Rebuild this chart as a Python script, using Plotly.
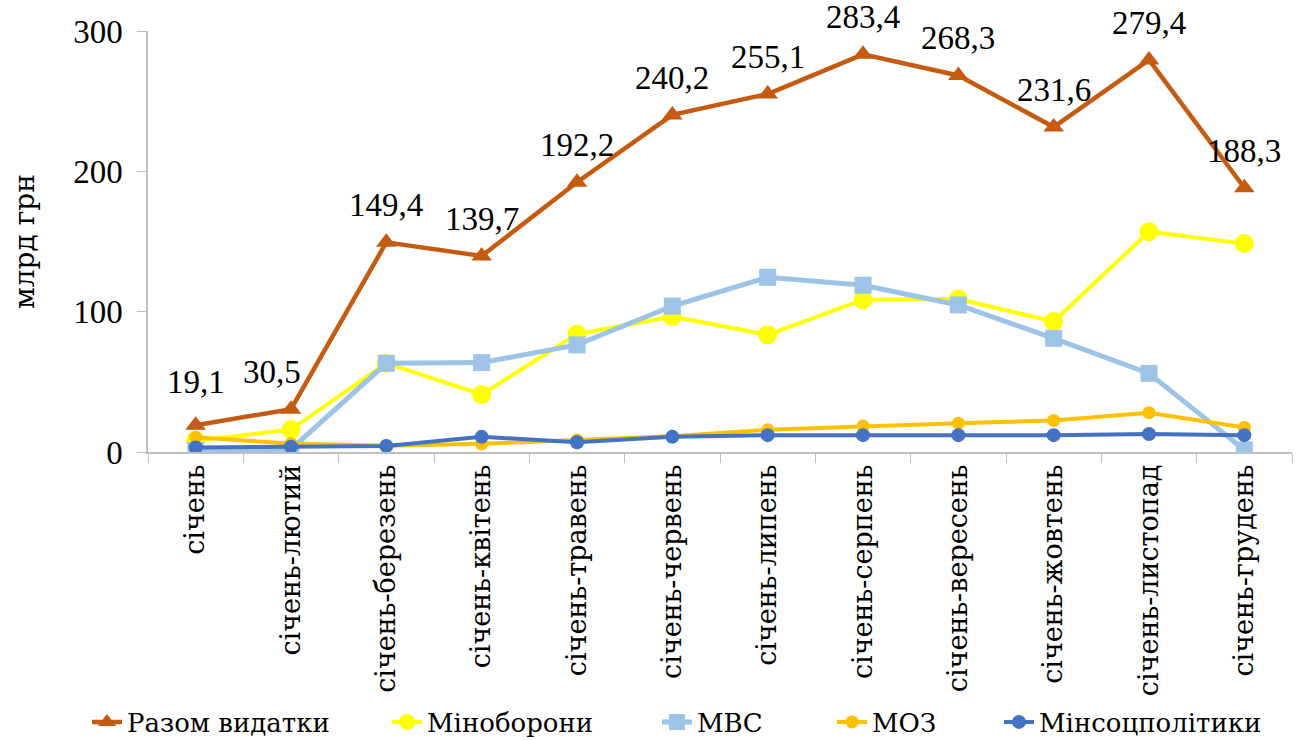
import plotly.graph_objects as go

categories = ["січень", "січень-лютий", "січень-березень", "січень-квітень", "січень-травень",
              "січень-червень", "січень-липень", "січень-серпень", "січень-вересень",
              "січень-жовтень", "січень-листопад", "січень-грудень"]

razom = [19.1, 30.5, 149.4, 139.7, 192.2, 240.2, 255.1, 283.4, 268.3, 231.6, 279.4, 188.3]
minoborony = [8.0, 16.0, 63.3, 41.0, 84.0, 96.5, 83.5, 108.5, 109.0, 93.0, 157.0, 148.5]
mvs = [1.0, 2.0, 63.2, 63.7, 76.3, 104.0, 124.5, 118.8, 104.8, 81.0, 56.0, 1.5]
moz = [10.5, 6.0, 4.5, 5.8, 8.5, 11.2, 15.8, 18.5, 20.5, 22.5, 28.0, 17.5]
minsoc = [3.2, 3.8, 4.3, 10.8, 7.0, 10.8, 12.0, 12.0, 12.0, 12.0, 12.8, 12.0]

series = [
    ("Разом видатки", razom, "#C55A11", "triangle-up", 18, 4.5),
    ("Міноборони", minoborony, "#FFFF00", "circle", 19, 4),
    ("МВС", mvs, "#9DC3E6", "square", 17, 5),
    ("МОЗ", moz, "#FFC000", "circle", 13, 4),
    ("Мінсоцполітики", minsoc, "#4472C4", "circle", 14, 4),
]

legend_text_left = [127, 427, 697, 872, 1039]

NUMFONT = "Times New Roman"
CYRFONT = "DejaVu Serif"

fig = go.Figure()
legend_names = ["legend", "legend2", "legend3", "legend4", "legend5"]
for k, (name, vals, color, sym, msize, lw) in enumerate(series):
    fig.add_trace(go.Scatter(
        x=categories, y=vals, name=name, mode="lines+markers",
        line=dict(color=color, width=lw),
        marker=dict(symbol=sym, size=msize, color=color),
        legend=legend_names[k],
    ))

# data labels for total
label_shift = {1: (-19, 0), 0: (0, 6)}
for i, v in enumerate(razom):
    xs, ys = label_shift.get(i, (0, 0))
    fig.add_annotation(x=categories[i], y=v, text=f"{v:.1f}".replace(".", ","),
                       showarrow=False, yshift=37 + ys, xshift=xs,
                       font=dict(family=NUMFONT, size=33, color="black"))

legends = {}
for k, ln in enumerate(legend_names):
    legends[ln] = dict(orientation="h", x=(legend_text_left[k] - 40) / 1309, xanchor="left",
                       xref="container", y=18 / 740, yanchor="middle", yref="container",
                       font=dict(family=CYRFONT, size=26), bgcolor="rgba(0,0,0,0)")

fig.update_layout(
    width=1309, height=740,
    margin=dict(l=148, r=17, t=31, b=288),
    paper_bgcolor="white", plot_bgcolor="white",
    font=dict(family=NUMFONT, size=33, color="black"),
    showlegend=True,
    xaxis=dict(type="category", range=[-0.5, 11.5], tickangle=-90, automargin=False,
               showline=True, linecolor="#BFBFBF", linewidth=1.5,
               ticks="outside", tickson="boundaries", ticklen=9, tickcolor="#BFBFBF",
               showgrid=False, zeroline=False,
               tickfont=dict(family=CYRFONT, size=27)),
    yaxis=dict(range=[0, 300], tickvals=[0, 100, 200, 300], automargin=False,
               showline=True, linecolor="#BFBFBF", linewidth=1.5,
               ticks="outside", ticklen=9, tickcolor="#BFBFBF", ticklabelstandoff=8,
               showgrid=False, zeroline=False,
               title=dict(text="млрд грн", font=dict(family=CYRFONT, size=28), standoff=30),
               tickfont=dict(family=NUMFONT, size=33)),
    **legends,
)

fig.write_html("out.html", post_script="document.body.style.margin='0';",
               config={"displayModeBar": False})
